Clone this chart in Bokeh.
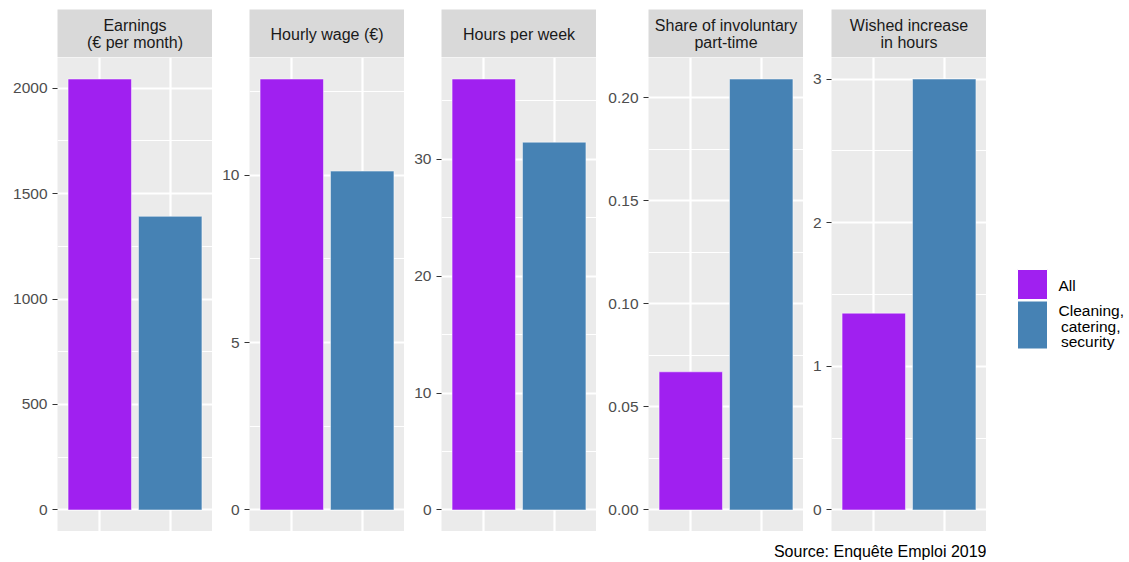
from bokeh.plotting import figure
from bokeh.layouts import row, column
from bokeh.models import FixedTicker, Range1d, ColumnDataSource, Grid, NumeralTickFormatter
from bokeh.embed import file_html
from bokeh.resources import INLINE
from bokeh.core.properties import value

# ---------------- data ----------------
categories = ["All", "Cleaning, catering, security"]
legend_lines = [["All"], ["Cleaning,", " catering,", " security"]]
panel_titles = [["Earnings", "(€ per month)"], ["Hourly wage (€)"], ["Hours per week"],
                ["Share of involuntary", "part-time"], ["Wished increase", "in hours"]]
earnings = [2043, 1392]
hourly_wage = [12.87, 10.12]
hours_per_week = [36.85, 31.45]
involuntary_share = [0.067, 0.209]
wished_increase = [1.37, 3.0]
series = [earnings, hourly_wage, hours_per_week, involuntary_share, wished_increase]
major_ticks = [[0, 500, 1000, 1500, 2000], [0, 5, 10], [0, 10, 20, 30],
               [0, 0.05, 0.10, 0.15, 0.20], [0, 1, 2, 3]]
minor_ticks = [[250, 750, 1250, 1750], [2.5, 7.5, 12.5], [5, 15, 25, 35],
               [0.025, 0.075, 0.125, 0.175], [0.5, 1.5, 2.5]]
tick_formats = ["0", "0", "0", "0.00", "0"]
caption = "Source: Enquête Emploi 2019"
colors = ["#A020F0", "#4682B4"]

# ---------------- style ----------------
FONT = value("Liberation Sans")
FONT_NAME = "Liberation Sans"
left_borders = [57, 37, 37, 52, 28]
TOP = 9
FRAME_W, FRAME_H, STRIP_H = 155, 474, 48

xs = [i + 1 for i in range(len(categories))]

cols = []
for k in range(5):
    vals = series[k]
    m = max(vals)
    L = left_borders[k]
    # strip
    s = figure(frame_width=FRAME_W, frame_height=STRIP_H, x_range=Range1d(0, 1),
               y_range=Range1d(0, STRIP_H), x_axis_type=None, y_axis_type=None,
               min_border_left=L, min_border_right=0, min_border_top=TOP, min_border_bottom=0,
               background_fill_color="#D9D9D9", border_fill_color="white",
               outline_line_color=None, output_backend="svg", toolbar_location=None)
    lines = panel_titles[k]
    if len(lines) == 1:
        ys = [STRIP_H / 2 - 0.5]
    else:
        ys = [STRIP_H / 2 + 8.2, STRIP_H / 2 - 9.2]
    s.text(x=[0.5] * len(lines), y=ys, text=lines, text_align="center",
           text_baseline="middle", text_font=FONT, text_font_size="16px",
           text_color="#1A1A1A")

    # main panel
    p = figure(frame_width=FRAME_W, frame_height=FRAME_H, x_range=Range1d(0.4, 2.6),
               y_range=Range1d(-0.05 * m, 1.05 * m), x_axis_type=None,
               min_border_left=L, min_border_right=0, min_border_top=0, min_border_bottom=0,
               background_fill_color="#EBEBEB", border_fill_color="white",
               outline_line_color=None, output_backend="svg", toolbar_location=None)
    src = ColumnDataSource(dict(x=xs, top=vals, color=colors, cat=categories))
    p.ygrid.grid_line_color = "white"
    p.ygrid.grid_line_width = 2.2
    p.ygrid.minor_grid_line_color = "white"
    p.ygrid.minor_grid_line_width = 1.1
    xg = Grid(dimension=0, ticker=FixedTicker(ticks=xs), grid_line_color="white",
              grid_line_width=2.2)
    p.add_layout(xg)
    p.vbar(x="x", top="top", bottom=0, width=0.9, fill_color="color", source=src,
           line_color="white", line_width=0.8, line_alpha=0.6)
    ax = p.yaxis[0]
    ax.ticker = FixedTicker(ticks=major_ticks[k], minor_ticks=minor_ticks[k])
    ax.formatter = NumeralTickFormatter(format=tick_formats[k])
    ax.axis_line_color = None
    ax.major_tick_line_color = "#333333"
    ax.major_tick_line_width = 1.1
    ax.major_tick_out = 5
    ax.major_tick_in = 0
    ax.minor_tick_line_color = None
    ax.major_label_text_font = FONT_NAME
    ax.major_label_text_font_size = "15.5px"
    ax.major_label_text_color = "#4D4D4D"
    ax.major_label_standoff = 5
    cols.append(column(s, p, spacing=0))

# legend (local coordinates: pixels from the legend box's top-left)
LW, LH = 140, TOP + STRIP_H + FRAME_H
lg = figure(width=LW, height=LH, x_range=Range1d(0, LW), y_range=Range1d(LH, 0),
            x_axis_type=None, y_axis_type=None, min_border=0,
            background_fill_color="white", border_fill_color="white",
            outline_line_color=None, output_backend="svg", toolbar_location=None)
key_tops = [269, 300.5]
key_bottoms = [299, 348.5]
lg.quad(left=[31, 31], right=[61, 61], top=key_tops, bottom=key_bottoms,
        fill_color=colors, line_color="white", line_width=1)
text_x, text_y, text_s = [], [], []
for i, lines in enumerate(legend_lines):
    n = len(lines)
    mid = (key_tops[i] + key_bottoms[i]) / 2 + 1
    for j, t in enumerate(lines):
        text_x.append(72 + (2.5 if t.startswith(" ") else 0))
        text_y.append(mid + (j - (n - 1) / 2) * 15.5)
        text_s.append(t.strip())
lg.text(x=text_x, y=text_y, text=text_s, text_align="left", text_baseline="middle",
        text_font=FONT, text_font_size="15.5px", text_color="black")

top_row = row(*cols, lg, spacing=0)

# caption
CW, CH = sum(left_borders) + 5 * FRAME_W, 562 - LH
cap = figure(width=CW, height=CH, x_range=Range1d(0, CW), y_range=Range1d(CH, 0),
             x_axis_type=None, y_axis_type=None, min_border=0,
             background_fill_color="white", border_fill_color="white",
             outline_line_color=None, output_backend="svg", toolbar_location=None)
cap.text(x=[CW], y=[20], text=[caption], text_align="right", text_baseline="alphabetic",
         text_font=FONT, text_font_size="16px", text_color="black")

layout = column(top_row, cap, spacing=0)
open("out.html", "w").write(file_html(layout, INLINE))
